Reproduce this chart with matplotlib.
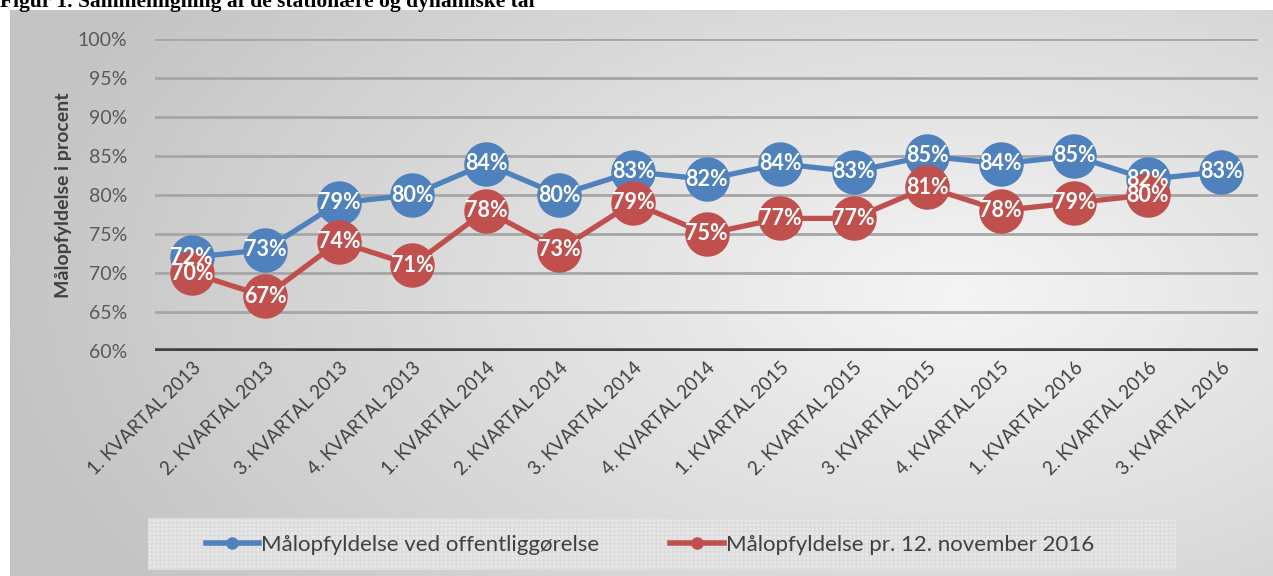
import numpy as np
import matplotlib
matplotlib.use("Agg")
import matplotlib.pyplot as plt
from matplotlib.patches import Rectangle

categories = ["1. KVARTAL 2013", "2. KVARTAL 2013", "3. KVARTAL 2013", "4. KVARTAL 2013",
              "1. KVARTAL 2014", "2. KVARTAL 2014", "3. KVARTAL 2014", "4. KVARTAL 2014",
              "1. KVARTAL 2015", "2. KVARTAL 2015", "3. KVARTAL 2015", "4. KVARTAL 2015",
              "1. KVARTAL 2016", "2. KVARTAL 2016", "3. KVARTAL 2016"]
blue_vals = [72, 73, 79, 80, 84, 80, 83, 82, 84, 83, 85, 84, 85, 82, 83]
red_vals = [70, 67, 74, 71, 78, 73, 79, 75, 77, 77, 81, 78, 79, 80]
blue_name = "Målopfyldelse ved offentliggørelse"
red_name = "Målopfyldelse pr. 12. november 2016"
yticks = [60, 65, 70, 75, 80, 85, 90, 95, 100]
title = "Figur 1. Sammenligning af de stationære og dynamiske tal"
ylabel = "Målopfyldelse i procent"

plt.rcParams["font.family"] = ["Lato", "DejaVu Sans"]

W, H = 1273, 576
fig = plt.figure(figsize=(W / 100, H / 100), dpi=100)
fig.patch.set_facecolor("white")

# background gradient panel
bg = fig.add_axes([10 / W, 0, (W - 10) / W, (H - 10) / H], zorder=-5)
yy, xx = np.mgrid[0:1:300j, 0:1:600j]
r = np.sqrt(((xx - 0.75) * 1.0) ** 2 + ((yy - 0.5) * 0.8) ** 2)
val = 0.96 - 0.25 * r
val = np.clip(val, 0.77, 0.96)
bg.imshow(np.dstack([val, val, val]), aspect="auto", extent=[0, 1, 0, 1], origin="lower")
bg.set_axis_off()

# title (cut off at top)
fig.text(0.0, 1 - 7 / H, title, fontsize=15.5, fontweight="bold", family="Liberation Serif",
         ha="left", va="baseline", color="black")

# legend box
fig.patches.append(Rectangle((148 / W, 6 / H), (1176 - 148) / W, (572 - 520) / H,
                             transform=fig.transFigure, facecolor="#e8e8e8",
                             edgecolor="#dcdcdc", hatch="++++", linewidth=0, zorder=-1))

ax = fig.add_axes([155 / W, 1 - 351 / H, (1258 - 155) / W, (351 - 39) / H])
ax.set_facecolor("none")
x = np.arange(len(categories))
ax.set_xlim(-0.5, len(categories) - 0.5)
ax.set_ylim(60, 100)
ax.set_yticks(yticks)
ax.set_yticklabels([f"{v}%" for v in yticks], fontsize=14, color="#595959")
for v in yticks[1:]:
    ax.axhline(v, color="#a6a6a6", lw=2, zorder=1)
ax.axhline(60, color="#404040", lw=4, zorder=2)
for s in ax.spines.values():
    s.set_visible(False)
ax.tick_params(axis="both", length=0)
ax.tick_params(axis="y", pad=20)
ax.set_xticks(x)
ax.set_xticklabels(categories, rotation=45, ha="right", rotation_mode="anchor",
                   fontsize=13.5, color="#404040")
ax.tick_params(axis="x", pad=6)
ax.set_ylabel(ylabel, fontsize=14, fontweight="bold", color="#404040", labelpad=4)

blue = "#4f81bd"
red = "#c0504d"
ax.plot(x, blue_vals, color=blue, lw=3.8, marker="o", ms=31, zorder=3)
ax.plot(x[:len(red_vals)], red_vals, color=red, lw=3.8, marker="o", ms=31, zorder=4)
for xi, v in zip(x, blue_vals):
    ax.text(xi, v, f"{v}%", ha="center", va="center", color="white", fontsize=15.5,
            fontweight="bold", zorder=5)
for xi, v in zip(x, red_vals):
    ax.text(xi, v, f"{v}%", ha="center", va="center", color="white", fontsize=15.5,
            fontweight="bold", zorder=6)

h1, = ax.plot([], [], color=blue, lw=4, marker="o", ms=8)
h2, = ax.plot([], [], color=red, lw=4, marker="o", ms=8)
leg = fig.legend([h1, h2], [blue_name, red_name], loc="center",
                 bbox_to_anchor=(650 / W, 31 / H), ncol=2, frameon=False,
                 fontsize=16, handlelength=2.4, handletextpad=0.1, columnspacing=3.2)
for t in leg.get_texts():
    t.set_color("#404040")

fig.savefig("out.png", dpi=100)
